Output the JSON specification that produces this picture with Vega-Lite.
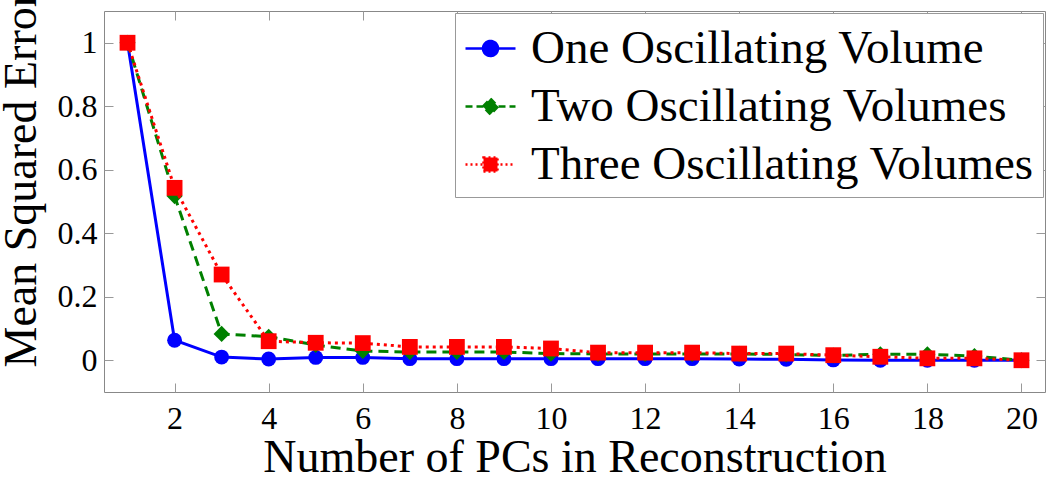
{
  "$schema": "https://vega.github.io/schema/vega-lite/v6.json",
  "width": 941,
  "height": 381,
  "autosize": {"type": "none"},
  "padding": {"left": 104, "top": 11, "right": 5, "bottom": 85},
  "background": "white",
  "data": {"values": [
    {"k": 1, "series": "One Oscillating Volume", "mse": 1.0},
    {"k": 2, "series": "One Oscillating Volume", "mse": 0.063},
    {"k": 3, "series": "One Oscillating Volume", "mse": 0.010},
    {"k": 4, "series": "One Oscillating Volume", "mse": 0.004},
    {"k": 5, "series": "One Oscillating Volume", "mse": 0.009},
    {"k": 6, "series": "One Oscillating Volume", "mse": 0.009},
    {"k": 7, "series": "One Oscillating Volume", "mse": 0.005},
    {"k": 8, "series": "One Oscillating Volume", "mse": 0.005},
    {"k": 9, "series": "One Oscillating Volume", "mse": 0.005},
    {"k": 10, "series": "One Oscillating Volume", "mse": 0.005},
    {"k": 11, "series": "One Oscillating Volume", "mse": 0.005},
    {"k": 12, "series": "One Oscillating Volume", "mse": 0.005},
    {"k": 13, "series": "One Oscillating Volume", "mse": 0.005},
    {"k": 14, "series": "One Oscillating Volume", "mse": 0.004},
    {"k": 15, "series": "One Oscillating Volume", "mse": 0.003},
    {"k": 16, "series": "One Oscillating Volume", "mse": 0.001},
    {"k": 17, "series": "One Oscillating Volume", "mse": 0.0},
    {"k": 18, "series": "One Oscillating Volume", "mse": 0.0},
    {"k": 19, "series": "One Oscillating Volume", "mse": 0.0},
    {"k": 20, "series": "One Oscillating Volume", "mse": 0.0},
    {"k": 1, "series": "Two Oscillating Volumes", "mse": 1.0},
    {"k": 2, "series": "Two Oscillating Volumes", "mse": 0.517},
    {"k": 3, "series": "Two Oscillating Volumes", "mse": 0.083},
    {"k": 4, "series": "Two Oscillating Volumes", "mse": 0.074},
    {"k": 5, "series": "Two Oscillating Volumes", "mse": 0.048},
    {"k": 6, "series": "Two Oscillating Volumes", "mse": 0.029},
    {"k": 7, "series": "Two Oscillating Volumes", "mse": 0.026},
    {"k": 8, "series": "Two Oscillating Volumes", "mse": 0.026},
    {"k": 9, "series": "Two Oscillating Volumes", "mse": 0.026},
    {"k": 10, "series": "Two Oscillating Volumes", "mse": 0.021},
    {"k": 11, "series": "Two Oscillating Volumes", "mse": 0.020},
    {"k": 12, "series": "Two Oscillating Volumes", "mse": 0.020},
    {"k": 13, "series": "Two Oscillating Volumes", "mse": 0.020},
    {"k": 14, "series": "Two Oscillating Volumes", "mse": 0.020},
    {"k": 15, "series": "Two Oscillating Volumes", "mse": 0.018},
    {"k": 16, "series": "Two Oscillating Volumes", "mse": 0.015},
    {"k": 17, "series": "Two Oscillating Volumes", "mse": 0.019},
    {"k": 18, "series": "Two Oscillating Volumes", "mse": 0.019},
    {"k": 19, "series": "Two Oscillating Volumes", "mse": 0.013},
    {"k": 20, "series": "Two Oscillating Volumes", "mse": 0.0},
    {"k": 1, "series": "Three Oscillating Volumes", "mse": 1.0},
    {"k": 2, "series": "Three Oscillating Volumes", "mse": 0.543},
    {"k": 3, "series": "Three Oscillating Volumes", "mse": 0.270},
    {"k": 4, "series": "Three Oscillating Volumes", "mse": 0.060},
    {"k": 5, "series": "Three Oscillating Volumes", "mse": 0.055},
    {"k": 6, "series": "Three Oscillating Volumes", "mse": 0.054},
    {"k": 7, "series": "Three Oscillating Volumes", "mse": 0.042},
    {"k": 8, "series": "Three Oscillating Volumes", "mse": 0.042},
    {"k": 9, "series": "Three Oscillating Volumes", "mse": 0.042},
    {"k": 10, "series": "Three Oscillating Volumes", "mse": 0.037},
    {"k": 11, "series": "Three Oscillating Volumes", "mse": 0.024},
    {"k": 12, "series": "Three Oscillating Volumes", "mse": 0.024},
    {"k": 13, "series": "Three Oscillating Volumes", "mse": 0.024},
    {"k": 14, "series": "Three Oscillating Volumes", "mse": 0.021},
    {"k": 15, "series": "Three Oscillating Volumes", "mse": 0.021},
    {"k": 16, "series": "Three Oscillating Volumes", "mse": 0.016},
    {"k": 17, "series": "Three Oscillating Volumes", "mse": 0.011},
    {"k": 18, "series": "Three Oscillating Volumes", "mse": 0.006},
    {"k": 19, "series": "Three Oscillating Volumes", "mse": 0.006},
    {"k": 20, "series": "Three Oscillating Volumes", "mse": 0.0}
  ]},
  "resolve": {"axis": {"x": "independent", "y": "independent"}},
  "layer": [
    {
      "mark": {"type": "point", "opacity": 0},
      "encoding": {
        "x": {"field": "k", "type": "quantitative", "scale": {"domain": [0.5, 20.5], "nice": false, "zero": false},
              "axis": {"orient": "top", "values": [2,4,6,8,10,12,14,16,18,20], "labels": false, "title": null, "domain": false}},
        "y": {"field": "mse", "type": "quantitative", "scale": {"domain": [-0.1, 1.1], "nice": false, "zero": false},
              "axis": {"orient": "right", "values": [0,0.2,0.4,0.6,0.8,1], "labels": false, "title": null, "domain": false}}
      }
    },
    {
      "encoding": {
        "x": {"field": "k", "type": "quantitative", "scale": {"domain": [0.5, 20.5], "nice": false, "zero": false},
              "axis": {"values": [2,4,6,8,10,12,14,16,18,20], "title": "Number of PCs in Reconstruction", "domain": false,
                       "labelPadding": 20, "titleBaseline": "alphabetic", "titleY": 79}},
        "y": {"field": "mse", "type": "quantitative", "scale": {"domain": [-0.1, 1.1], "nice": false, "zero": false},
              "axis": {"values": [0,0.2,0.4,0.6,0.8,1], "format": "~g", "title": "Mean Squared Error", "domain": false,
                       "labelPadding": 16, "titleAngle": -90, "titleAlign": "left", "titleBaseline": "alphabetic", "titleX": -69, "titleY": 356}},
        "color": {"field": "series", "type": "nominal",
                  "scale": {"domain": ["One Oscillating Volume", "Two Oscillating Volumes", "Three Oscillating Volumes"], "range": ["#0000ff", "#008000", "#ff0000"]},
                  "legend": {
                    "orient": "none", "legendX": 351, "legendY": 2, "title": null,
                    "fillColor": "white", "strokeColor": "#999", "padding": 9,
                    "labelFont": "Times New Roman, Liberation Serif, serif", "labelFontSize": 47, "labelColor": "black",
                    "labelOffset": 14, "rowPadding": 8, "symbolSize": 2500, "symbolStrokeWidth": 2.5,
                    "labelLimit": 1000,
                    "encode": {"symbols": {"update": {
                      "shape": [
                        {"test": "datum.value === 'One Oscillating Volume'", "value": "M-1,0H1M0.3,0A0.3,0.3 0 1,1 -0.3,0A0.3,0.3 0 1,1 0.3,0Z"},
                        {"test": "datum.value === 'Two Oscillating Volumes'", "value": "M-1,0H1M0,-0.32L0.3,0L0,0.32L-0.3,0Z"},
                        {"value": "M-1,0H1M-0.28,-0.28H0.28V0.28H-0.28Z"}
                      ],
                      "fill": [
                        {"test": "datum.value === 'One Oscillating Volume'", "value": "#0000ff"},
                        {"test": "datum.value === 'Two Oscillating Volumes'", "value": "#008000"},
                        {"value": "#ff0000"}
                      ],
                      "stroke": [
                        {"test": "datum.value === 'One Oscillating Volume'", "value": "#0000ff"},
                        {"test": "datum.value === 'Two Oscillating Volumes'", "value": "#008000"},
                        {"value": "#ff0000"}
                      ],
                      "strokeDash": [
                        {"test": "datum.value === 'One Oscillating Volume'", "value": [1, 0]},
                        {"test": "datum.value === 'Two Oscillating Volumes'", "value": [7, 4]},
                        {"value": [2, 3]}
                      ],
                      "opacity": {"value": 1},
                      "fillOpacity": {"value": 1}
                    }}}
                  }}
      },
      "layer": [
        {"transform": [{"filter": "datum.series === 'One Oscillating Volume'"}],
         "mark": {"type": "line", "strokeWidth": 3, "point": {"filled": true, "size": 220, "shape": "circle", "opacity": 1}}},
        {"transform": [{"filter": "datum.series === 'Two Oscillating Volumes'"}],
         "mark": {"type": "line", "strokeWidth": 3, "strokeDash": [10, 6], "point": {"filled": true, "size": 260, "shape": "diamond", "opacity": 1}}},
        {"transform": [{"filter": "datum.series === 'Three Oscillating Volumes'"}],
         "mark": {"type": "line", "strokeWidth": 3, "strokeDash": [3, 4], "point": {"filled": true, "size": 250, "shape": "square", "opacity": 1}}}
      ]
    }
  ],
  "config": {
    "font": "Times New Roman, Liberation Serif, serif",
    "view": {"stroke": "#888", "strokeWidth": 1},
    "axis": {
      "labelFont": "Times New Roman, Liberation Serif, serif", "labelFontSize": 32, "labelColor": "black",
      "titleFont": "Times New Roman, Liberation Serif, serif", "titleFontSize": 46, "titleFontWeight": "normal", "titleColor": "black",
      "tickColor": "#999", "tickSize": -9, "tickWidth": 1, "grid": false
    }
  }
}
